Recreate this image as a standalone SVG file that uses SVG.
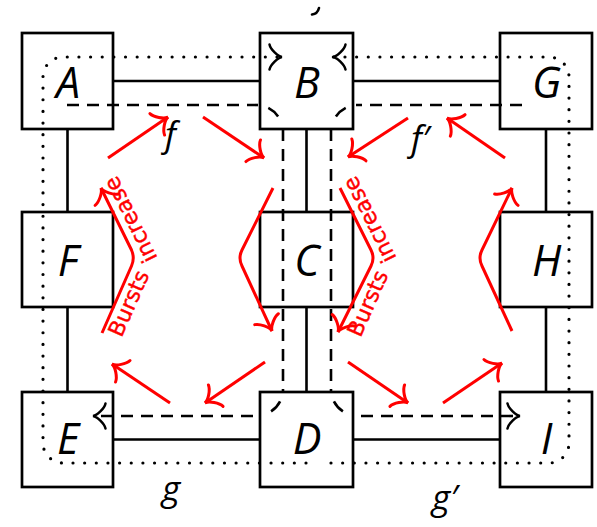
<svg xmlns="http://www.w3.org/2000/svg" width="597" height="527" viewBox="0 0 597 527">
<style>
.box{fill:#fff;stroke:#000;stroke-width:2.7}
.solid{stroke:#000;stroke-width:2.6;fill:none}
.dot{stroke:#000;stroke-width:3.2;stroke-dasharray:0 11.65;stroke-linecap:round;fill:none}
.dash{stroke:#000;stroke-width:2.6;stroke-dasharray:12 8;fill:none}
.tick{stroke:#000;stroke-width:2.6;fill:none}
.red{stroke:#f00;stroke-width:3;fill:none;marker-end:url(#rto)}
.lbl{font-family:"Open Sans","DejaVu Sans",sans-serif;font-style:italic;font-size:43px;text-anchor:middle;fill:#000}
.math{font-family:"Open Sans","DejaVu Sans",sans-serif;font-style:italic;font-size:35px;fill:#000}
.burst{font-family:"DejaVu Sans",sans-serif;font-size:22px;fill:#f00;stroke:#f00;stroke-width:0.4;word-spacing:11px}
</style>
<defs>
<marker id="rto" markerUnits="userSpaceOnUse" viewBox="-16 -16 32 32" markerWidth="32" markerHeight="32" refX="0" refY="0" orient="auto" overflow="visible">
<path d="M-13,13 C-12,8 -4.5,0.5 0,0 C-4.5,-0.5 -12,-8 -13,-13" fill="none" stroke="#f00" stroke-width="3" stroke-linecap="round"/>
</marker>
<marker id="kto" markerUnits="userSpaceOnUse" viewBox="-16 -16 32 32" markerWidth="32" markerHeight="32" refX="0" refY="0" orient="auto" overflow="visible">
<path d="M-12.5,12.5 C-11.5,7.5 -4,0.5 0,0 C-4,-0.5 -11.5,-7.5 -12.5,-12.5" fill="none" stroke="#000" stroke-width="2.5" stroke-dasharray="none" stroke-linecap="round"/>
</marker>
<path id="tpL" d="M120.3,341.1 L157.3,257.1 L112.7,166.6"/>
<path id="tpR" d="M359.3,341.1 L396.3,257.1 L351.7,166.6"/>
</defs>
<rect width="597" height="527" fill="#fff"/>
<g id="edges-solid">
<path class="solid" d="M113,81 H260 M353,81 H500 M113,439.5 H260 M353,439.5 H500 M67.5,129 V212 M67.5,307 V392 M306.5,129 V212 M306.5,307 V392 M546,129 V212 M546,307 V392"/>
</g>
<g id="A"><rect class="box" x="22" y="33" width="91" height="96"/><text class="lbl" x="68" y="97.5">A</text></g>
<g id="B"><rect class="box" x="260" y="33" width="93" height="96"/><text class="lbl" x="307" y="97.5">B</text></g>
<g id="G"><rect class="box" x="500" y="33" width="92" height="96"/><text class="lbl" x="546.5" y="97.5">G</text></g>
<g id="F"><rect class="box" x="22" y="212" width="91" height="95"/><text class="lbl" x="68" y="276">F</text></g>
<g id="C"><rect class="box" x="260" y="212" width="93" height="95"/><text class="lbl" x="307" y="276">C</text></g>
<g id="H"><rect class="box" x="500" y="212" width="92" height="95"/><text class="lbl" x="546.5" y="276">H</text></g>
<g id="E"><rect class="box" x="22" y="392" width="91" height="95"/><text class="lbl" x="68" y="454">E</text></g>
<g id="D"><rect class="box" x="260" y="392" width="93" height="95"/><text class="lbl" x="307" y="454">D</text></g>
<g id="I"><rect class="box" x="500" y="392" width="92" height="95"/><text class="lbl" x="546.5" y="454">I</text></g>
<g id="connectors">
<path class="dot" d="M306,463 H63 A20,20 0 0 1 43,443 V77 A20,20 0 0 1 63,57 H282" marker-end="url(#kto)"/>
<path class="dot" d="M331,463 H549 A20,20 0 0 0 569,443 V77 A20,20 0 0 0 549,57 H333" marker-end="url(#kto)"/>
<path class="dash" d="M67,105 H258"/>
<path class="dash" d="M522,105 H356"/>
<path class="dash" d="M283,129 V392"/>
<path class="dash" d="M331,129 V392"/>
<path class="dash" d="M253,416 H93" marker-end="url(#kto)"/>
<path class="dash" d="M361,416 H520" marker-end="url(#kto)"/>
<path class="tick" d="M268.3,107.9 A27,27 0 0 1 278.1,116.5"/>
<path class="tick" d="M345.7,107.9 A27,27 0 0 0 335.9,116.5"/>
<path class="tick" d="M280.1,401.3 A27,27 0 0 1 271.1,411.4"/>
<path class="tick" d="M333.9,401.3 A27,27 0 0 0 342.9,411.4"/>
<path class="tick" d="M319,8 Q317.5,14 312,14.5" stroke-linecap="round"/>
</g>
<g id="red-arrows">
<path class="red" d="M108,158 L168,117"/>
<path class="red" d="M203,117 L264,158"/>
<path class="red" d="M408,118 L348,157"/>
<path class="red" d="M505,158 L447,118"/>
<path class="red" d="M170,403 L112,364"/>
<path class="red" d="M265,362 L205,403"/>
<path class="red" d="M348,362 L408,403"/>
<path class="red" d="M443,403 L502,363"/>
<path class="red" d="M102,333 L131.5,266 Q135,258 131.5,250 L101,188"/>
<path class="red" d="M273,188 L242,250 Q238,258 242,266 L272,331"/>
<path class="red" d="M340,188 L371,250 Q375,258 371,266 L338,332"/>
<path class="red" d="M512,331 L482,266 Q478,258 482,250 L512,188"/>
</g>
<g id="labels">
<text class="burst"><textPath href="#tpL" startOffset="3">Bursts increase</textPath></text>
<text class="burst"><textPath href="#tpR" startOffset="3">Bursts increase</textPath></text>
<text class="math" x="165" y="147">f</text>
<text class="math" x="411" y="151">f′</text>
<text class="math" x="162" y="501">g</text>
<text class="math" x="432" y="510">g′</text>
</g>
</svg>
